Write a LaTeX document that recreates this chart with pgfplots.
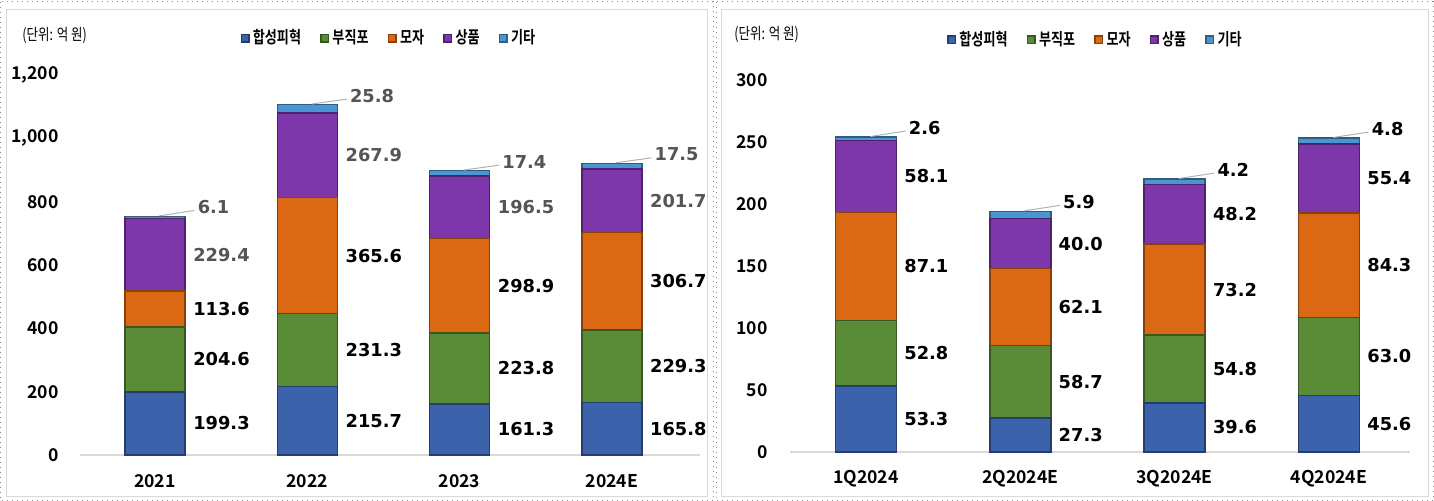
\documentclass[border=0pt]{standalone}
\usepackage{fontspec}
\usepackage{pgfplots}
\pgfplotsset{compat=1.18}
\usepackage{pgfplotstable}
\setmainfont{DejaVu Sans}
\newfontfamily\krfont{Noto Sans CJK KR}[BoldFont={Noto Sans CJK KR Bold}]
\newfontfamily\krnarrow{Noto Sans CJK KR}[FakeStretch=0.78, BoldFont={Noto Sans CJK KR Bold}]
\newfontfamily\numfont{DejaVu Sans}
\newcommand\tickfnt{\krfont\bfseries\fontsize{8.8}{10}\selectfont}
\newcommand\lblfnt{\numfont\bfseries\fontsize{8.9}{10}\selectfont}
\newcommand\legfnt{\krnarrow\bfseries\fontsize{8.4}{9}\selectfont}
\newcommand\unitfnt{\krnarrow\fontsize{8}{9}\selectfont}

\definecolor{cBlue}{HTML}{3C62AC}
\definecolor{cGreen}{HTML}{5A8C37}
\definecolor{cOrange}{HTML}{DB6914}
\definecolor{cPurple}{HTML}{7D37AA}
\definecolor{cSky}{HTML}{4B96D2}
\definecolor{lblgray}{HTML}{555555}

\pgfplotstableread{
x a b c d e
0 199.3 204.6 113.6 229.4 6.1
1 215.7 231.3 365.6 267.9 25.8
2 161.3 223.8 298.9 196.5 17.4
3 165.8 229.3 306.7 201.7 17.5
}\annual

\pgfplotstableread{
x a b c d e
0 53.3 52.8 87.1 58.1 2.6
1 27.3 58.7 62.1 40.0 5.9
2 39.6 54.8 73.2 48.2 4.2
3 45.6 63.0 84.3 55.4 4.8
}\quarter

\pgfplotsset{
  base/.style={
    scale only axis, anchor=south west, ymin=0, clip=false,
    enlargelimits=false,
    xtick={0,1,2,3},
    scaled y ticks=false,
  },
  barax/.style={
    base,
    ybar stacked,
    axis x line*=bottom, axis y line*=left,
    y axis line style={draw=none},
    x axis line style={draw=black!15, line width=0.9pt},
    major tick length=0pt,
    /pgf/number format/assume math mode=true,
    /pgf/number format/1000 sep={,},
    tick label style={font=\tickfnt, text=black},
    legend columns=5,
    legend image code/.code={\fill[##1] (0pt,-1.9pt) rectangle (3.8pt,1.9pt);},
    legend style={anchor=center, draw=none, fill=none, font=\legfnt, inner sep=0pt,
      nodes={inner sep=0.6pt},
      /tikz/every odd column/.append style={column sep=1pt},
      /tikz/every even column/.append style={column sep=9pt}},
  },
  lblax/.style={base, hide axis},
  bars/.style={fill=#1, draw=#1!62!black, line width=0.7pt},
  lbl/.style={draw=none, mark=none, nodes near coords, point meta=explicit symbolic,
    every node near coord/.append style={anchor=west, inner sep=0pt, xshift=19pt, font=\lblfnt, text=#1}},
  toplbl/.style={draw=none, mark=none, nodes near coords={}, point meta=explicit symbolic,
    every node near coord/.append style={anchor=center, inner sep=0pt, minimum size=0pt,
      pin={[pin distance=21.5pt, pin edge={black!30, line width=0.5pt, shorten <=2pt, shorten >=1.5pt},
        anchor=west, inner sep=0pt, font=\lblfnt, text=#1]12:\pgfplotspointmeta}}},
}

\begin{document}
\begin{tikzpicture}
\useasboundingbox (0,0) rectangle (717pt,-250.5pt);
\fill[white] (0,0) rectangle (717pt,-250.5pt);
% frames
\draw[black!45, dotted, line width=0.5pt] (0.3pt,-0.8pt) rectangle (356.5pt,-250.2pt);
\draw[black!45, dotted, line width=0.5pt] (358pt,-0.8pt) rectangle (716.7pt,-250.2pt);
\draw[black!15, line width=0.5pt] (3pt,-5pt) rectangle (353.5pt,-248.5pt);
\draw[black!15, line width=0.5pt] (360.5pt,-5pt) rectangle (714pt,-248.5pt);
\node[anchor=west, font=\unitfnt, inner sep=0pt] at (11pt,-17.5pt) {(단위: 억 원)};
\node[anchor=west, font=\unitfnt, inner sep=0pt] at (367pt,-17pt) {(단위: 억 원)};

% ---------- left panel ----------
\begin{axis}[barax, at={(40pt,-227.5pt)}, width=310pt, height=190pt,
  xmin=-0.492, xmax=3.579, ymax=1200, ytick={0,200,...,1200},
  xticklabels={2021,2022,2023,2024E}, bar width=30pt,
  yticklabel style={xshift=-7.1pt}, xticklabel style={yshift=-6pt},
  legend style={at={(0.4976,1.097)}}]
\addplot[bars=cBlue] table[x=x,y=a]{\annual};
\addplot[bars=cGreen] table[x=x,y=b]{\annual};
\addplot[bars=cOrange] table[x=x,y=c]{\annual};
\addplot[bars=cPurple] table[x=x,y=d]{\annual};
\addplot[bars=cSky] table[x=x,y=e]{\annual};
\legend{합성피혁,부직포,모자,상품,기타}
\end{axis}
\begin{axis}[lblax, at={(40pt,-227.5pt)}, width=310pt, height=190pt,
  xmin=-0.492, xmax=3.579, ymax=1200]
\addplot[lbl=black] table[x=x, y expr=\thisrow{a}/2, meta=a]{\annual};
\addplot[lbl=black] table[x=x, y expr=\thisrow{a}+\thisrow{b}/2, meta=b]{\annual};
\addplot[lbl=black] table[x=x, y expr=\thisrow{a}+\thisrow{b}+\thisrow{c}/2, meta=c]{\annual};
\addplot[lbl=lblgray] table[x=x, y expr=\thisrow{a}+\thisrow{b}+\thisrow{c}+\thisrow{d}/2, meta=d]{\annual};
\addplot[toplbl=lblgray] table[x=x, y expr=\thisrow{a}+\thisrow{b}+\thisrow{c}+\thisrow{d}+\thisrow{e}, meta=e]{\annual};
\end{axis}

% ---------- right panel ----------
\begin{axis}[barax, at={(395pt,-226pt)}, width=310pt, height=186pt,
  xmin=-0.4925, xmax=3.525, ymax=300, ytick={0,50,...,300},
  xticklabels={1Q2024,2Q2024E,3Q2024E,4Q2024E}, bar width=30.5pt,
  yticklabel style={xshift=-7.6pt}, xticklabel style={yshift=-5.5pt},
  legend style={at={(0.492,1.108)}}]
\addplot[bars=cBlue] table[x=x,y=a]{\quarter};
\addplot[bars=cGreen] table[x=x,y=b]{\quarter};
\addplot[bars=cOrange] table[x=x,y=c]{\quarter};
\addplot[bars=cPurple] table[x=x,y=d]{\quarter};
\addplot[bars=cSky] table[x=x,y=e]{\quarter};
\legend{합성피혁,부직포,모자,상품,기타}
\end{axis}
\begin{axis}[lblax, at={(395pt,-226pt)}, width=310pt, height=186pt,
  xmin=-0.4925, xmax=3.525, ymax=300]
\addplot[lbl=black] table[x=x, y expr=\thisrow{a}/2, meta=a]{\quarter};
\addplot[lbl=black] table[x=x, y expr=\thisrow{a}+\thisrow{b}/2, meta=b]{\quarter};
\addplot[lbl=black] table[x=x, y expr=\thisrow{a}+\thisrow{b}+\thisrow{c}/2, meta=c]{\quarter};
\addplot[lbl=black] table[x=x, y expr=\thisrow{a}+\thisrow{b}+\thisrow{c}+\thisrow{d}/2, meta=d]{\quarter};
\addplot[toplbl=black] table[x=x, y expr=\thisrow{a}+\thisrow{b}+\thisrow{c}+\thisrow{d}+\thisrow{e}, meta=e]{\quarter};
\end{axis}
\end{tikzpicture}
\end{document}
